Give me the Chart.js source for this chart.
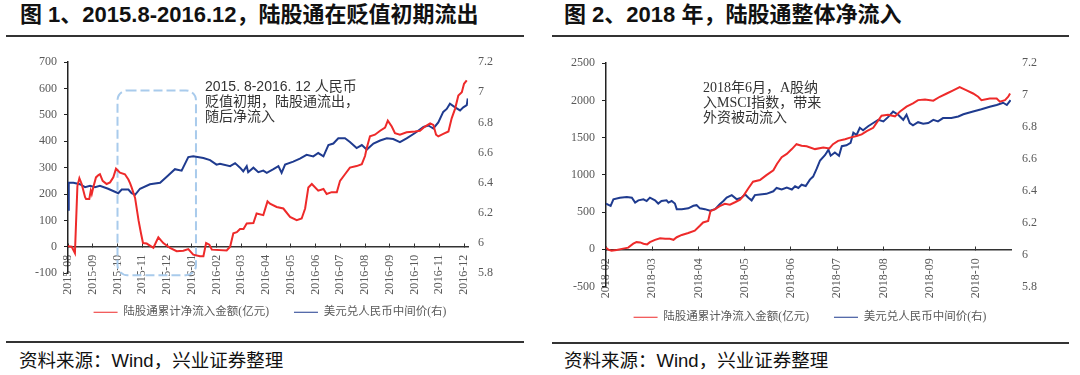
<!DOCTYPE html>
<html lang="zh-CN">
<head>
<meta charset="utf-8">
<title>陆股通</title>
<script src="https://cdn.jsdelivr.net/npm/chart.js@4.4.1/dist/chart.umd.min.js"></script>
<style>
  body { margin: 0; background: #fff; }
  #lienzo { position: relative; width: 1080px; height: 375px; overflow: hidden; font-family: "Liberation Sans", "Noto Sans CJK SC", sans-serif; }
  .titulo { position: absolute; top: 3px; font-size: 22px; line-height: 24px; font-weight: bold; color: #111; white-space: nowrap; }
  .raya { position: absolute; height: 0; border-top: 2px solid #333; }
  .fuente { position: absolute; top: 349px; font-size: 18.5px; line-height: 24px; color: #111; white-space: nowrap; }
  .nota { position: absolute; font-size: 14px; line-height: 15px; color: #333; white-space: nowrap; }
  .serif { font-family: "Liberation Serif", "Noto Sans CJK SC", serif; }
  canvas { position: absolute; top: 45px; }
</style>
</head>
<body>
<div id="lienzo">
  <div class="titulo" style="left:20px">图 1、2015.8-2016.12，陆股通在贬值初期流出</div>
  <div class="titulo" style="left:564px">图 2、2018 年，陆股通整体净流入</div>
  <div class="raya" style="left:6px;width:518px;top:35px"></div>
  <div class="raya" style="left:552px;width:517px;top:35px"></div>

  <canvas id="g1" width="540" height="300" style="left:0"></canvas>
  <canvas id="g2" width="540" height="300" style="left:540px"></canvas>

  <div class="nota" style="left:205px;top:79px">2015. 8-2016. 12 人民币<br>贬值初期，陆股通流出，<br>随后净流入</div>
  <div class="nota serif" style="left:703px;top:80px">2018年6月，A股纳<br>入MSCI指数，带来<br>外资被动流入</div>

  <div class="raya" style="left:6px;width:518px;top:341px"></div>
  <div class="raya" style="left:552px;width:517px;top:342px"></div>
  <div class="fuente" style="left:19px">资料来源：Wind，兴业证券整理</div>
  <div class="fuente" style="left:564px">资料来源：Wind，兴业证券整理</div>
</div>
<script>
// ---- grafico 1: 2015.8 - 2016.12 ----
// x = meses desde 2015-08 (fraccion de mes)
const meses1 = ["2015-08", "2015-09", "2015-10", "2015-11", "2015-12", "2016-01", "2016-02", "2016-03", "2016-04",
  "2016-05", "2016-06", "2016-07", "2016-08", "2016-09", "2016-10", "2016-11", "2016-12"];
const ejeIzq1 = [-100, 0, 100, 200, 300, 400, 500, 600, 700];
const ejeDer1 = [5.8, 6, 6.2, 6.4, 6.6, 6.8, 7, 7.2];

// 陆股通累计净流入金额(亿元)
const flujoMes1 = [0, 0.15, 0.28, 0.38, 0.46, 0.55, 0.69, 0.73, 0.86, 0.92, 0.96, 1.02, 1.13, 1.23, 1.29, 1.40, 1.56, 1.70,
  1.83, 1.94, 2.10, 2.30, 2.44, 2.51, 2.57, 2.71, 2.85, 2.95, 3.03, 3.18, 3.45, 3.65, 3.85, 4.12, 4.39, 4.66, 4.86, 5.06,
  5.33, 5.47, 5.58, 5.71, 5.81, 6.41, 6.55, 6.68, 6.82, 6.95, 7.09, 7.22, 7.49, 7.62, 7.89, 8.06, 8.16, 8.43, 8.70, 8.97,
  9.24, 9.44, 9.58, 9.71, 9.85, 10.11, 10.32, 10.45, 10.65, 10.86, 10.99, 11.19, 11.39, 11.66, 11.87, 12.00, 12.07, 12.20,
  12.40, 12.61, 12.81, 12.92, 13.08, 13.21, 13.41, 13.68, 14.02, 14.22, 14.42, 14.63, 14.76, 14.87, 14.96, 15.16, 15.37,
  15.50, 15.64, 15.77, 15.91, 16.00, 16.11];
const flujo1 = [2, 0, -24, 230, 260, 239, 188, 181, 181, 213, 200, 225, 263, 272, 275, 250, 238, 244,
  263, 296, 281, 275, 255, 240, 225, 185, 100, 50, 14, 12, -4, 36, 14, -4, -17, -15, -9, -30,
  -36, -36, 14, 8, -11, -14, 0, 51, 55, 67, 67, 88, 90, 126, 120, 172, 163, 151, 145, 113,
  101, 107, 145, 225, 238, 213, 219, 200, 207, 207, 250, 275, 300, 306, 313, 344, 375, 419,
  425, 440, 452, 478, 456, 431, 425, 434, 437, 440, 456, 468, 462, 425, 419, 428, 437,
  487, 524, 574, 586, 618, 631];

// 美元兑人民币中间价(右)
const cambioMes1 = [0, 0.03, 0.22, 0.48, 0.69, 0.89, 1.09, 1.29, 1.62, 2.03, 2.17, 2.44, 2.57, 2.71, 2.91, 3.31, 3.72, 3.99,
  4.32, 4.59, 4.86, 5.06, 5.47, 5.74, 6.00, 6.14, 6.55, 6.75, 6.95, 7.08, 7.22, 7.28, 7.49, 7.69, 7.89, 8.03, 8.30, 8.50,
  8.63, 8.77, 9.10, 9.37, 9.64, 9.91, 10.11, 10.32, 10.52, 10.72, 10.92, 11.19, 11.39, 11.66, 11.87, 12.07, 12.34, 12.61,
  12.88, 13.14, 13.41, 13.68, 14.02, 14.36, 14.56, 14.76, 14.96, 15.16, 15.30, 15.43, 15.64, 15.84, 15.97, 16.11, 16.15];
const cambio1 = [6.22, 6.40, 6.40, 6.39, 6.37, 6.38, 6.37, 6.38, 6.36, 6.33, 6.355, 6.355, 6.33, 6.32, 6.36, 6.39, 6.40, 6.44,
  6.49, 6.48, 6.57, 6.575, 6.564, 6.55, 6.52, 6.526, 6.51, 6.53, 6.50, 6.476, 6.51, 6.47, 6.50, 6.47, 6.48, 6.466, 6.49, 6.51,
  6.466, 6.52, 6.54, 6.56, 6.585, 6.575, 6.597, 6.575, 6.65, 6.66, 6.695, 6.695, 6.67, 6.63, 6.65, 6.62, 6.66, 6.68,
  6.695, 6.69, 6.67, 6.695, 6.73, 6.77, 6.78, 6.76, 6.80, 6.87, 6.89, 6.925, 6.90, 6.88, 6.90, 6.915, 6.96];

// recuadro punteado: de 2015-10 a principios de 2016-01
const cajaMes1 = [2, 5.17];
const cajaValor1 = [-108, 593];

// ---- grafico 2: 2018 ----
const meses2 = ["2018-02", "2018-03", "2018-04", "2018-05", "2018-06", "2018-07", "2018-08", "2018-09", "2018-10"];
const ejeIzq2 = [-500, 0, 500, 1000, 1500, 2000, 2500];
const ejeDer2 = [5.8, 6, 6.2, 6.4, 6.6, 6.8, 7, 7.2];

const flujoMes2 = [0, 0.05, 0.12, 0.23, 0.37, 0.48, 0.59, 0.66, 0.74, 0.81, 0.89, 0.95, 1.06, 1.17, 1.28, 1.38, 1.46, 1.53,
  1.64, 1.78, 1.92, 2.03, 2.10, 2.21, 2.26, 2.36, 2.46, 2.57, 2.68, 2.79, 2.90, 2.98, 3.08, 3.18, 3.33, 3.47, 3.62, 3.70,
  3.80, 3.91, 4.02, 4.12, 4.23, 4.34, 4.52, 4.70, 4.83, 4.91, 5.02, 5.17, 5.28, 5.42, 5.53, 5.64, 5.78, 5.96, 6.10, 6.25,
  6.36, 6.50, 6.64, 6.75, 6.90, 7.08, 7.22, 7.37, 7.51, 7.65, 7.80, 7.94, 8.05, 8.12, 8.30, 8.45, 8.52, 8.63, 8.70, 8.74];
const flujo2 = [20, -4, -20, -10, 9, 22, 75, 96, 92, 75, 66, 96, 127, 149, 140, 140, 127, 162,
  193, 219, 250, 316, 360, 382, 513, 540, 579, 610, 600, 632, 667, 724, 820, 908, 930, 996, 1062, 1149,
  1237, 1281, 1346, 1412, 1390, 1385, 1346, 1368, 1355, 1412, 1457, 1478, 1500, 1522, 1544, 1588, 1632, 1794, 1807, 1786,
  1852, 1917, 1961, 2004, 2013, 1996, 2049, 2093, 2136, 2180, 2136, 2093, 2049, 2004, 2026, 2026, 1983, 2004, 2049, 2093];

const cambioMes2 = [0, 0.10, 0.16, 0.30, 0.45, 0.56, 0.63, 0.70, 0.81, 0.88, 0.95, 1.06, 1.13, 1.20, 1.31, 1.35, 1.42, 1.49,
  1.53, 1.64, 1.78, 1.89, 1.96, 2.03, 2.14, 2.25, 2.36, 2.46, 2.54, 2.61, 2.72, 2.83, 2.93, 3.01, 3.08, 3.15, 3.22, 3.33,
  3.47, 3.62, 3.69, 3.80, 3.91, 4.02, 4.09, 4.16, 4.23, 4.32, 4.41, 4.48, 4.56, 4.63, 4.74, 4.81, 4.86, 4.95, 5.04, 5.10,
  5.20, 5.29, 5.35, 5.42, 5.49, 5.56, 5.67, 5.78, 5.89, 6.00, 6.10, 6.21, 6.32, 6.43, 6.50, 6.57, 6.64, 6.75, 6.86, 6.97,
  7.08, 7.18, 7.29, 7.47, 7.62, 7.73, 7.94, 8.12, 8.30, 8.45, 8.59, 8.67, 8.75];
const cambio2 = [6.32, 6.306, 6.347, 6.357, 6.361, 6.357, 6.326, 6.34, 6.347, 6.336, 6.357, 6.34, 6.32, 6.336, 6.34, 6.326, 6.336, 6.32,
  6.285, 6.285, 6.29, 6.306, 6.31, 6.29, 6.285, 6.275, 6.285, 6.316, 6.336, 6.357, 6.373, 6.347, 6.357, 6.377, 6.357, 6.34, 6.373, 6.377,
  6.381, 6.397, 6.418, 6.408, 6.42, 6.408, 6.428, 6.418, 6.438, 6.43, 6.47, 6.489, 6.54, 6.59, 6.625, 6.658, 6.62, 6.64, 6.62, 6.68,
  6.685, 6.70, 6.764, 6.75, 6.795, 6.78, 6.805, 6.825, 6.845, 6.835, 6.862, 6.897, 6.877, 6.845, 6.877, 6.825, 6.81, 6.83, 6.82, 6.825,
  6.845, 6.835, 6.856, 6.856, 6.866, 6.88, 6.897, 6.911, 6.927, 6.938, 6.952, 6.938, 6.968];

const nombreRojo = "陆股通累计净流入金额(亿元)";
const nombreAzul = "美元兑人民币中间价(右)";
const rojo = "#ee2a2a";
const azul = "#1f3b8f";

const gris = "#595959";
const letraEje = { family: '"Liberation Serif", "Times New Roman", serif', size: 12 };
const letraLeyenda = { family: '"Liberation Serif", "Noto Sans CJK SC", serif', size: 11.5 };

function puntos(xs, ys) {
  return xs.map((x, i) => ({ x: x, y: ys[i] }));
}

// recuadro punteado azul claro (solo grafico 1)
const recuadro = {
  id: "recuadro",
  beforeDatasetsDraw(chart) {
    const { ctx, scales } = chart;
    const x0 = scales.x.getPixelForValue(cajaMes1[0]);
    const x1 = scales.x.getPixelForValue(cajaMes1[1]);
    const y0 = scales.y.getPixelForValue(cajaValor1[1]);
    const y1 = scales.y.getPixelForValue(cajaValor1[0]);
    ctx.save();
    ctx.strokeStyle = "#a9cbec";
    ctx.lineWidth = 2;
    ctx.setLineDash([9, 4]);
    ctx.beginPath();
    ctx.roundRect(x0, y0, x1 - x0, y1 - y0, 10);
    ctx.stroke();
    ctx.restore();
  },
};

function crear(id, o) {
  return new Chart(document.getElementById(id), {
    type: "line",
    data: {
      datasets: [
        { label: nombreRojo, data: puntos(o.rojoX, o.rojo), borderColor: rojo, backgroundColor: rojo, yAxisID: "y" },
        { label: nombreAzul, data: puntos(o.azulX, o.azul), borderColor: azul, backgroundColor: azul, yAxisID: "y1" },
      ],
    },
    options: {
      responsive: false,
      animation: false,
      layout: { padding: o.padding },
      elements: { point: { radius: 0 }, line: { borderWidth: 2, tension: 0 } },
      plugins: {
        tooltip: { enabled: false },
        legend: {
          position: "bottom",
          title: o.espacio ? { display: true, text: "", font: { size: o.espacio }, padding: 0 } : { display: false },
          labels: { usePointStyle: true, pointStyle: "line", pointStyleWidth: 24, padding: 25, color: gris, font: letraLeyenda },
        },
      },
      scales: {
        x: {
          type: "linear",
          position: { y: 0 },
          min: 0,
          max: o.maxX,
          afterBuildTicks: (s) => { s.ticks = o.meses.map((m, i) => ({ value: i })); },
          grid: { drawOnChartArea: false, tickLength: -4, color: "#333" },
          border: { color: "#333", width: 1.5 },
          ticks: { autoSkip: false, minRotation: 90, maxRotation: 90, padding: o.pad, color: gris, font: letraEje,
            callback: (v) => o.meses[v] },
        },
        y: {
          position: "left",
          min: o.izq[0],
          max: o.izq[o.izq.length - 1],
          afterBuildTicks: (s) => { s.ticks = o.izq.map((v) => ({ value: v })); },
          afterFit: (s) => { s.width = o.anchoIzq; },
          grid: { drawOnChartArea: false, tickLength: 4, color: "#222" },
          border: { color: "#222", width: 1.5 },
          ticks: { padding: 7, color: gris, font: letraEje, callback: (v) => String(v) },
        },
        y1: {
          position: "right",
          min: o.der[0],
          max: o.der[o.der.length - 1],
          afterBuildTicks: (s) => { s.ticks = o.der.map((v) => ({ value: v })); },
          afterFit: (s) => { s.width = o.anchoDer; },
          grid: { display: false, drawTicks: false },
          border: { display: false },
          ticks: { padding: o.padDer, color: gris, font: letraEje, callback: (v) => String(Number(v.toFixed(1))) },
        },
      },
    },
    plugins: o.plugins || [],
  });
}

crear("g1", {
  meses: meses1, izq: ejeIzq1, der: ejeDer1, maxX: 16.16,
  rojoX: flujoMes1, rojo: flujo1, azulX: cambioMes1, azul: cambio1,
  padding: { top: 15, bottom: 17, left: 0, right: 0 },
  anchoIzq: 68, anchoDer: 72, pad: 12, padDer: 10, espacio: 7,
  plugins: [recuadro],
});

crear("g2", {
  meses: meses2, izq: ejeIzq2, der: ejeDer2, maxX: 8.76,
  rojoX: flujoMes2, rojo: flujo2, azulX: cambioMes2, azul: cambio2,
  padding: { top: 14, bottom: 12, left: 0, right: 0 },
  anchoIzq: 66, anchoDer: 69, pad: 13, padDer: 11,
});
</script>
</body>
</html>
